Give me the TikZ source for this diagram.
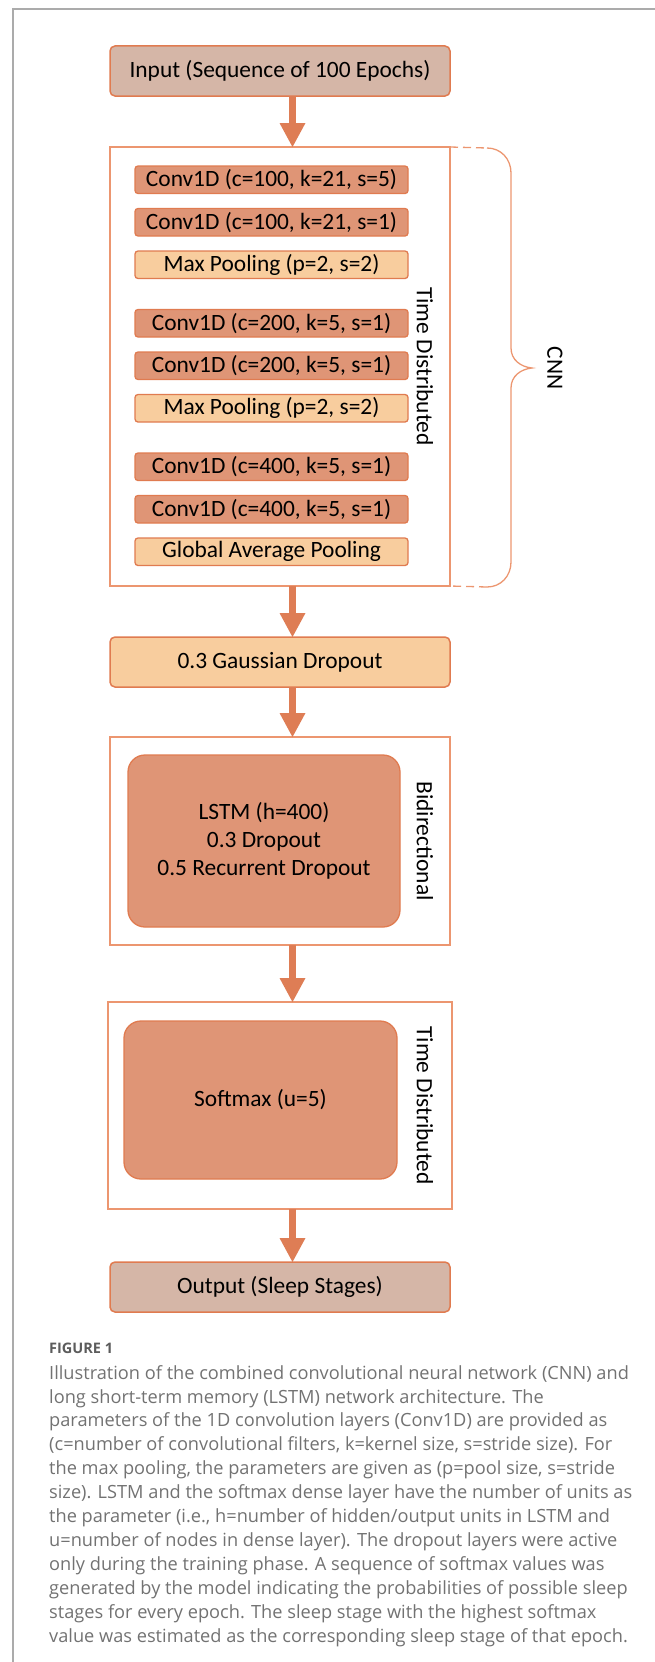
\documentclass[tikz,border=0pt]{standalone}
\usepackage{fontspec}
\setmainfont{Carlito}
\newfontfamily\capfont{Open Sans}
\usetikzlibrary{positioning,arrows.meta}

\definecolor{edgeor}{HTML}{E07B50}
\definecolor{wrapor}{HTML}{EC9670}
\definecolor{iofill}{HTML}{D5B6A7}
\definecolor{convfill}{HTML}{DF9576}
\definecolor{poolfill}{HTML}{F8CD9E}
\definecolor{arrowor}{HTML}{DE7D55}
\definecolor{framegray}{HTML}{ABABAB}
\definecolor{capgray}{HTML}{727272}
\definecolor{figgray}{HTML}{5C5C5C}

\newcommand{\mainsz}{\fontsize{23.4}{28}\selectfont}

\begin{document}
\begin{tikzpicture}[
    x=1pt, y=-1pt,
    box/.style={rectangle, rounded corners=5pt, draw=edgeor, line width=1.5pt, minimum width=340pt, minimum height=50pt, inner sep=0pt, outer sep=0pt, align=center, font=\mainsz},
    io/.style={box, fill=iofill},
    drop/.style={box, fill=poolfill},
    conv/.style={rectangle, rounded corners=3pt, draw=edgeor, fill=convfill, line width=1.3pt, minimum width=273pt, minimum height=27.5pt, inner sep=0pt, outer sep=0pt, font=\mainsz},
    pool/.style={conv, fill=poolfill},
    wrap/.style={rectangle, draw=wrapor, line width=1.3pt, fill=white, minimum width=340pt, inner sep=0pt, outer sep=0pt},
    core/.style={rectangle, rounded corners=17pt, draw=edgeor, fill=convfill, line width=1.3pt, inner sep=0pt, outer sep=0pt, align=center, font=\mainsz},
    side/.style={rotate=-90, inner sep=0pt, font=\mainsz},
    flow/.style={draw=arrowor, line width=7pt, -{Triangle[width=26pt, length=24pt, line width=0pt]}},
    brace/.style={draw=wrapor, line width=1.3pt},
    captext/.style={inner sep=0pt, align=left, text=capgray, font=\capfont\fontsize{18.2}{23.9}\selectfont},
    node distance=15pt
]
    \useasboundingbox (0,0) rectangle (655,1662);
    \draw[framegray, line width=1.6pt] (13,1662) -- (13,9) -- (655,9);

    % main column
    \node[io] (input) at (280,71) {Input (Sequence of 100 Epochs)};
    \node[wrap, minimum height=439pt, below=51pt of input] (td1) {};
    \node[drop, below=51pt of td1] (gauss) {0.3 Gaussian Dropout};
    \node[wrap, minimum height=208pt, below=50pt of gauss] (bidir) {};
    \node[wrap, minimum width=344pt, minimum height=207pt, below=57pt of bidir] (td2) {};
    \node[io, below=53pt of td2] (output) {Output (Sleep Stages)};

    % CNN layers
    \node[conv, below=19pt of td1.north, xshift=-8.5pt] (conv1) {Conv1D (c=100, k=21, s=5)};
    \node[conv, below=of conv1] (conv2) {Conv1D (c=100, k=21, s=1)};
    \node[pool, below=of conv2] (pool1) {Max Pooling (p=2, s=2)};
    \node[conv, below=31pt of pool1] (conv3) {Conv1D (c=200, k=5, s=1)};
    \node[conv, below=of conv3] (conv4) {Conv1D (c=200, k=5, s=1)};
    \node[pool, below=of conv4] (pool2) {Max Pooling (p=2, s=2)};
    \node[conv, below=31pt of pool2] (conv5) {Conv1D (c=400, k=5, s=1)};
    \node[conv, below=of conv5] (conv6) {Conv1D (c=400, k=5, s=1)};
    \node[pool, below=of conv6] (gap) {Global Average Pooling};

    % recurrent and dense parts
    \node[core, minimum width=272pt, minimum height=172pt] (lstm) at ([xshift=-16pt]bidir.center) {LSTM (h=400)\\0.3 Dropout\\0.5 Recurrent Dropout};
    \node[core, minimum width=273pt, minimum height=158pt] (soft) at ([xshift=-19.5pt, yshift=5.5pt]td2.center) {Softmax (u=5)};

    \node[side] (tdlab1) at ([xshift=-25pt]td1.east) {Time Distributed};
    \node[side] (bilab) at ([xshift=-25pt]bidir.east) {Bidirectional};
    \node[side] (tdlab2) at ([xshift=-27pt]td2.east) {Time Distributed};

    % arrows
    \coordinate (ax) at (292.5,0);
    \draw[flow] (input.south -| ax) -- (td1.north -| ax);
    \draw[flow] (td1.south -| ax) -- (gauss.north -| ax);
    \draw[flow] (gauss.south -| ax) -- (bidir.north -| ax);
    \draw[flow] (bidir.south -| ax) -- (td2.north -| ax);
    \draw[flow] (td2.south -| ax) -- (output.north -| ax);

    % brace
    \draw[brace, dash pattern=on 8pt off 5pt] (td1.north east) -- (487,148);
    \draw[brace] (487,148) .. controls (501,148) and (511,159) .. (511,173) -- (511,348)
        .. controls (511,360) and (521,367) .. (532,368)
        .. controls (521,369) and (511,376) .. (511,388) -- (511,562)
        .. controls (511,576) and (501,587) .. (487,587);
    \draw[brace, dash pattern=on 8pt off 5pt] (487,587) -- (td1.south east);
    \node[side] (cnn) at (555,368) {CNN};

    % caption
    \node[anchor=base west, inner sep=0pt, text=figgray, font=\capfont\bfseries\fontsize{14.5}{17}\selectfont] (fig) at (49,1353) {FIGURE 1};
    \node[captext, anchor=north west] (caption) at (49,1365) {Illustration of the combined convolutional neural network (CNN) and\\
long short-term memory (LSTM) network architecture. The\\
parameters of the 1D convolution layers (Conv1D) are provided as\\
(c=number of convolutional filters, k=kernel size, s=stride size). For\\
the max pooling, the parameters are given as (p=pool size, s=stride\\
size). LSTM and the softmax dense layer have the number of units as\\
the parameter (i.e., h=number of hidden/output units in LSTM and\\
u=number of nodes in dense layer). The dropout layers were active\\
only during the training phase. A sequence of softmax values was\\
generated by the model indicating the probabilities of possible sleep\\
stages for every epoch. The sleep stage with the highest softmax\\
value was estimated as the corresponding sleep stage of that epoch.};
\end{tikzpicture}
\end{document}
